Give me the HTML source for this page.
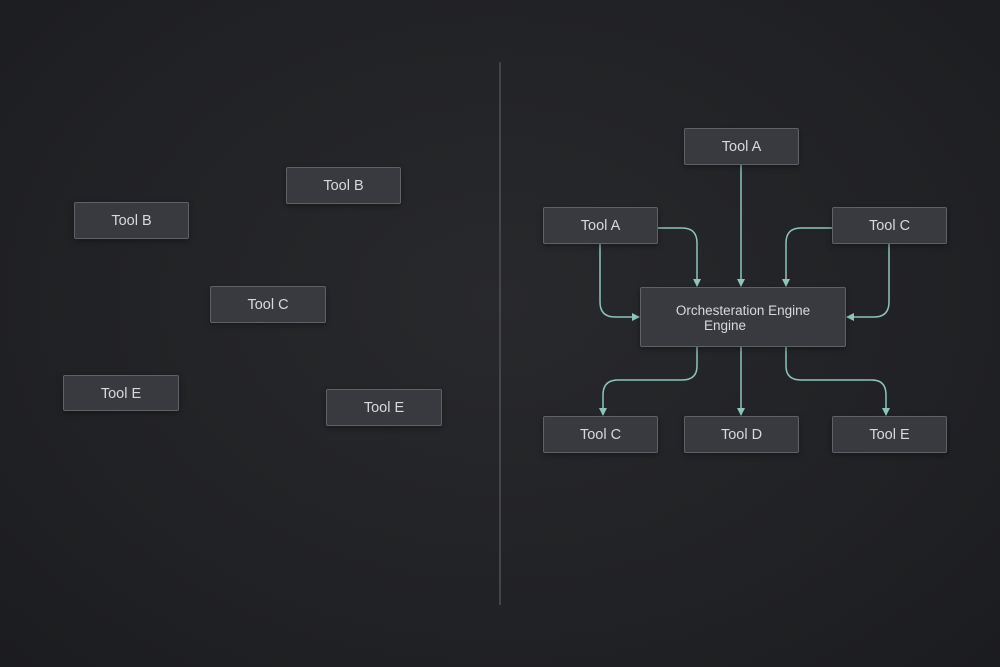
<!DOCTYPE html>
<html><head><style>
body{margin:0;width:1000px;height:667px;overflow:hidden;background:radial-gradient(ellipse at 50% 45%,#28292c 0%,#212225 60%,#1b1c1f 100%);font-family:"Liberation Sans",sans-serif}
.b{position:absolute;box-sizing:border-box;background:#393a3f;border:1.5px solid #606166;border-radius:2px;color:#d8d9db;font-size:14.5px;display:flex;align-items:center;justify-content:center;padding-top:1px;box-shadow:0 2px 6px rgba(0,0,0,.35)}
svg{position:absolute;left:0;top:0}
</style></head><body>
<svg width="1000" height="667">
<defs><marker id="a" markerWidth="8" markerHeight="8" refX="7" refY="4" orient="auto" markerUnits="userSpaceOnUse"><path d="M0,0L8,4L0,8z" fill="#8fc4bb"/></marker></defs>
<line x1="500" y1="62" x2="500" y2="605" stroke="#5a5b5e" stroke-width="1.2"/>
<g fill="none" stroke="#8fc4bb" stroke-width="1.5" marker-end="url(#a)">
<path d="M741,165V286"/>
<path d="M658,228H682Q697,228 697,243V286"/>
<path d="M600,244V302Q600,317 615,317H639"/>
<path d="M832,228H801Q786,228 786,243V286"/>
<path d="M889,244V302Q889,317 874,317H847"/>
<path d="M697,347V366Q697,380 682,380H618Q603,380 603,395V415"/>
<path d="M741,347V415"/>
<path d="M786,347V366Q786,380 801,380H872Q886,380 886,395V415"/>
</g>
</svg>
<div class="b" style="left:74px;top:202px;width:115px;height:37px">Tool B</div>
<div class="b" style="left:286px;top:167px;width:115px;height:37px">Tool B</div>
<div class="b" style="left:210px;top:286px;width:116px;height:37px">Tool C</div>
<div class="b" style="left:63px;top:375px;width:116px;height:36px">Tool E</div>
<div class="b" style="left:326px;top:389px;width:116px;height:37px">Tool E</div>
<div class="b" style="left:684px;top:128px;width:115px;height:37px">Tool A</div>
<div class="b" style="left:543px;top:207px;width:115px;height:37px">Tool A</div>
<div class="b" style="left:832px;top:207px;width:115px;height:37px">Tool C</div>
<div class="b" style="left:640px;top:287px;width:206px;height:60px;font-size:13.5px;line-height:15px;flex-direction:column"><div>Orchesteration Engine</div><div style="margin-right:36px">Engine</div></div>
<div class="b" style="left:543px;top:416px;width:115px;height:37px">Tool C</div>
<div class="b" style="left:684px;top:416px;width:115px;height:37px">Tool D</div>
<div class="b" style="left:832px;top:416px;width:115px;height:37px">Tool E</div>
</body></html>
